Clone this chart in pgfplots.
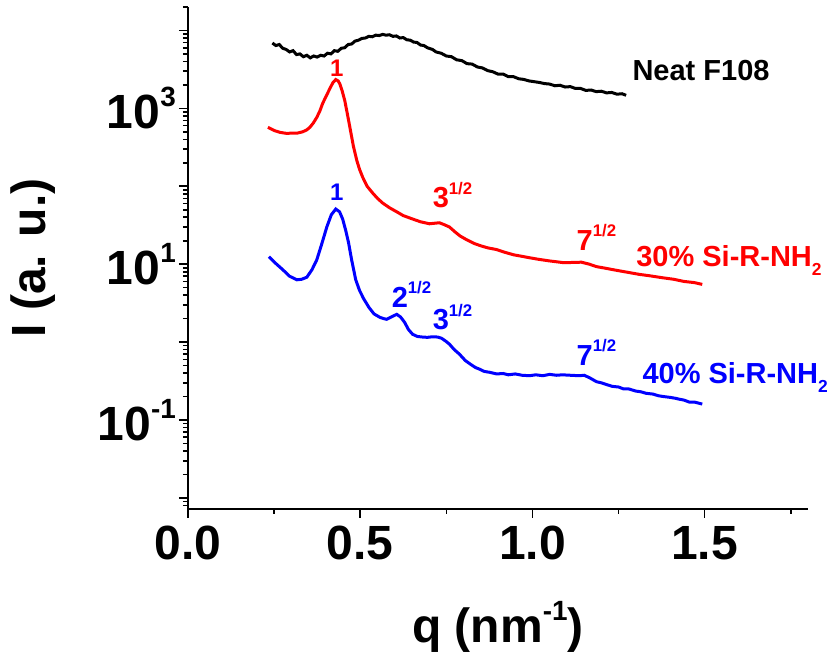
\documentclass[border=0pt]{standalone}
\usepackage{fontspec}
\setmainfont{Liberation Sans}
\usepackage{pgfplots}
\pgfplotsset{compat=1.18}

% 1 px of the reference = 1 bp here
\newcommand{\tickfont}{\fontsize{48bp}{50bp}\selectfont\bfseries}
\newcommand{\annfont}{\fontsize{29bp}{31bp}\selectfont\bfseries}
\newcommand{\onefont}{\fontsize{24bp}{26bp}\selectfont\bfseries}
\newcommand{\sps}[1]{\raisebox{0.46em}{\scalebox{0.58}{#1}}}
\newcommand{\sbs}[1]{\raisebox{-0.33em}{\scalebox{0.6}{#1}}}

\begin{document}
\begin{tikzpicture}[font=\bfseries]
\begin{axis}[
    scale only axis,
    width=620bp, height=502bp,
    xmin=0, xmax=1.8,
    ymode=log, ymin=0.0072, ymax=2e4,
    axis x line=bottom, axis y line=left,
    axis line style={-, line width=2bp},
    tick style={black, line width=1.6bp},
    tick align=outside,
    major tick length=9bp, minor tick length=5bp,
    xtick={0,0.5,1,1.5},
    xticklabels={0.0,0.5,1.0,1.5},
    minor xtick={0.25,0.75,1.25,1.75},
    ytick={0.01,0.1,1,10,100,1000,10000},
    yticklabels={,10\sps{-1},,10\sps{1},,10\sps{3},},
    minor ytick={0.008,0.009,
      0.02,0.03,0.04,0.05,0.06,0.07,0.08,0.09,
      0.2,0.3,0.4,0.5,0.6,0.7,0.8,0.9,
      2,3,4,5,6,7,8,9,
      20,30,40,50,60,70,80,90,
      200,300,400,500,600,700,800,900,
      2000,3000,4000,5000,6000,7000,8000,9000,20000},
    xticklabel style={font=\tickfont, inner sep=0pt, yshift=-8bp},
    yticklabel style={font=\tickfont, inner sep=0pt, xshift=-3bp},
    xlabel={q (nm\sps{-1})},
    ylabel={I (a. u.)},
    xlabel style={font=\tickfont, at={(axis description cs:0.5,-0.235)}, anchor=center},
    ylabel style={font=\tickfont, at={(axis description cs:-0.25,0.5)}, anchor=center},
    clip=false,
]

% Neat F108
\addplot[black, line width=3bp] coordinates {
(0.245,6900) (0.255,6400) (0.265,6600) (0.275,5900) (0.285,5700) (0.295,5300)
(0.305,5500) (0.315,4900) (0.325,5000) (0.335,4600) (0.345,4800) (0.355,4450)
(0.365,4700) (0.375,4550) (0.385,4800) (0.395,4700) (0.405,5100) (0.415,5000)
(0.425,5500) (0.435,5400) (0.445,5900) (0.455,6000) (0.465,6600) (0.475,6700)
(0.485,7300) (0.495,7500) (0.505,7900) (0.515,8000) (0.525,8400) (0.535,8300)
(0.545,8700) (0.555,8600) (0.565,8900) (0.575,8700) (0.585,8800) (0.595,8400)
(0.605,8500) (0.615,8000) (0.625,8100) (0.635,7600) (0.645,7500) (0.655,7100)
(0.665,7000) (0.675,6500) (0.685,6400) (0.695,6000) (0.71,5700) (0.72,5300)
(0.735,5100) (0.75,4700) (0.765,4600) (0.78,4200) (0.795,4100) (0.81,3750)
(0.825,3700) (0.84,3400) (0.855,3300) (0.87,3050) (0.885,2950) (0.90,2750)
(0.915,2750) (0.93,2550) (0.945,2550) (0.96,2400) (0.975,2350) (0.99,2250)
(1.005,2200) (1.02,2150) (1.035,2080) (1.05,2050) (1.065,1950) (1.08,1980)
(1.095,1880) (1.11,1900) (1.125,1800) (1.14,1800) (1.155,1700) (1.17,1720)
(1.185,1640) (1.20,1660) (1.215,1580) (1.23,1600) (1.245,1520) (1.26,1540)
(1.272,1470)
};

% 30% Si-R-NH2
\addplot[red, line width=3bp] coordinates {
(0.232,572) (0.250,520) (0.267,492) (0.285,478) (0.301,480) (0.318,482)
(0.333,500) (0.345,530) (0.354,572) (0.364,650) (0.374,767) (0.383,930)
(0.391,1160) (0.400,1400) (0.412,1800) (0.421,2150) (0.429,2340) (0.436,2250)
(0.441,2050) (0.448,1650) (0.455,1265) (0.462,880) (0.470,571) (0.480,330)
(0.490,215) (0.498,165) (0.507,131) (0.520,100) (0.536,82) (0.550,70)
(0.565,61) (0.585,53) (0.606,47) (0.625,42) (0.652,38) (0.675,35)
(0.701,33) (0.715,33.5) (0.730,34) (0.745,32) (0.759,30) (0.775,26)
(0.790,23) (0.809,20.6) (0.83,18.5) (0.85,17.2) (0.87,16.2) (0.896,15.4)
(0.92,14.2) (0.945,13.2) (0.97,12.6) (0.991,12.1) (1.02,11.5) (1.05,11.0)
(1.087,10.5) (1.11,10.5) (1.142,10.6) (1.165,10.0) (1.186,9.3) (1.21,8.9)
(1.24,8.4) (1.281,7.8) (1.31,7.4) (1.34,7.1) (1.377,6.7) (1.41,6.4)
(1.44,6.0) (1.47,5.8) (1.493,5.5)
};

% 40% Si-R-NH2
\addplot[blue, line width=3bp] coordinates {
(0.235,12.5) (0.255,10.2) (0.275,8.5) (0.295,7.0) (0.316,6.3) (0.330,6.4)
(0.345,6.8) (0.360,8.5) (0.374,11.4) (0.388,18) (0.403,30) (0.416,43)
(0.429,51) (0.440,47) (0.449,38) (0.458,27) (0.466,19) (0.475,11.4)
(0.487,6.3) (0.498,4.6) (0.51,3.6) (0.525,2.8) (0.54,2.3) (0.557,2.08)
(0.568,2.0) (0.577,1.96) (0.59,2.1) (0.606,2.27) (0.617,2.1) (0.629,1.79)
(0.640,1.45) (0.652,1.26) (0.666,1.18) (0.681,1.16) (0.695,1.15) (0.710,1.17)
(0.725,1.16) (0.736,1.12) (0.748,1.03) (0.759,0.94) (0.773,0.80) (0.788,0.70)
(0.805,0.58) (0.82,0.52) (0.835,0.47) (0.846,0.45) (0.86,0.42) (0.875,0.41)
(0.896,0.39) (0.915,0.395) (0.93,0.38) (0.95,0.39) (0.97,0.375) (0.991,0.37)
(1.01,0.38) (1.03,0.37) (1.05,0.385) (1.07,0.375) (1.087,0.38) (1.11,0.375)
(1.136,0.37) (1.15,0.375) (1.165,0.35) (1.186,0.31) (1.20,0.30) (1.215,0.285)
(1.232,0.27) (1.25,0.265) (1.265,0.25) (1.28,0.25) (1.30,0.235) (1.315,0.23)
(1.330,0.22) (1.35,0.215) (1.365,0.205) (1.38,0.20) (1.40,0.195) (1.415,0.19)
(1.426,0.185) (1.44,0.18) (1.455,0.17) (1.47,0.17) (1.493,0.16)
};

% annotations
\node[red, font=\onefont, inner sep=0pt] at (axis cs:0.432,3260) {1};
\node[blue, font=\onefont, inner sep=0pt] at (axis cs:0.432,83.6) {1};
\node[black, font=\annfont, anchor=west, inner sep=0pt] at (axis cs:1.29,3080) {Neat F108};
\node[red, font=\annfont, anchor=west, inner sep=0pt] at (axis cs:0.710,76.4) {3\sps{1/2}};
\node[red, font=\annfont, anchor=west, inner sep=0pt] at (axis cs:1.128,22.1) {7\sps{1/2}};
\node[red, font=\annfont, anchor=west, inner sep=0pt] at (axis cs:1.301,11.2) {30\% Si-R-NH\sbs{2}};
\node[blue, font=\annfont, anchor=west, inner sep=0pt] at (axis cs:0.591,4.09) {2\sps{1/2}};
\node[blue, font=\annfont, anchor=west, inner sep=0pt] at (axis cs:0.710,2.08) {3\sps{1/2}};
\node[blue, font=\annfont, anchor=west, inner sep=0pt] at (axis cs:1.128,0.738) {7\sps{1/2}};
\node[blue, font=\annfont, anchor=west, inner sep=0pt] at (axis cs:1.319,0.352) {40\% Si-R-NH\sbs{2}};
\end{axis}
\pgfresetboundingbox
\path[use as bounding box] (current axis.south west) ++(-188bp,-148bp) rectangle ++(831bp,657bp);
\end{tikzpicture}
\end{document}
